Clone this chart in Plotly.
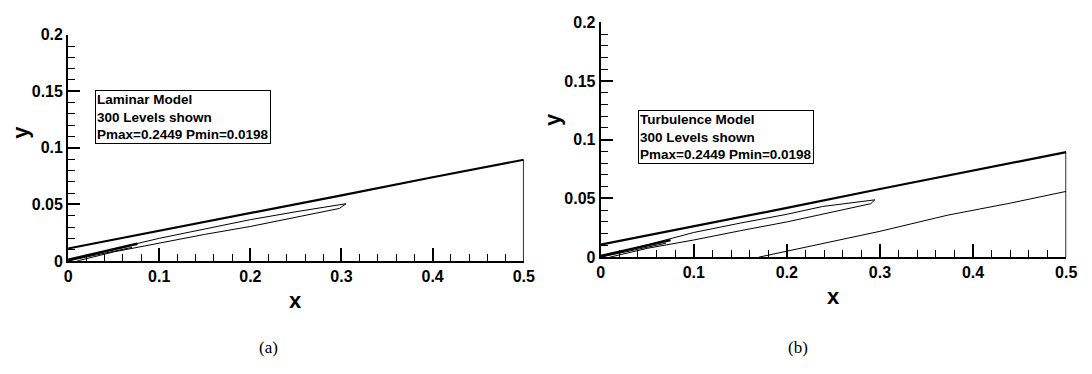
import plotly.graph_objects as go

# ---------------- data ----------------
# Panel (a) : Laminar model
a_wall_x = [0.0, 0.1, 0.2, 0.3, 0.4, 0.5]
a_wall_y = [0.011, 0.0265, 0.0425, 0.058, 0.074, 0.0895]
a_edge_x = [0.5, 0.5]
a_edge_y = [0.0, 0.0895]
a_loop_x = [0.0, 0.05, 0.1, 0.15, 0.2, 0.25, 0.305, 0.2976, 0.25, 0.2, 0.15, 0.1, 0.05, 0.01]
a_loop_y = [0.0, 0.0105, 0.0200, 0.0285, 0.0365, 0.0435, 0.0506, 0.0464, 0.0385, 0.0305, 0.0235, 0.0160, 0.0080, 0.0]
a_lead1_x = [0.0, 0.025, 0.05, 0.076]
a_lead1_y = [0.001, 0.0055, 0.0100, 0.0152]
a_lead2_x = [0.0, 0.035, 0.07]
a_lead2_y = [0.0, 0.0060, 0.0120]

# Panel (b) : Turbulence model
b_wall_x = [0.0, 0.1, 0.2, 0.3, 0.4, 0.5]
b_wall_y = [0.0106, 0.026, 0.042, 0.058, 0.074, 0.0894]
b_edge_x = [0.5, 0.5]
b_edge_y = [0.0, 0.0894]
b_loop_x = [0.0, 0.05, 0.1, 0.15, 0.2, 0.238, 0.2945, 0.290, 0.238, 0.2, 0.15, 0.1, 0.05, 0.01]
b_loop_y = [0.0, 0.0105, 0.0210, 0.0290, 0.0365, 0.0431, 0.0488, 0.0455, 0.0366, 0.0300, 0.0225, 0.0146, 0.0075, 0.0]
b_lead1_x = [0.0, 0.025, 0.05, 0.075]
b_lead1_y = [0.001, 0.0055, 0.0100, 0.0145]
b_lead2_x = [0.0, 0.035, 0.07]
b_lead2_y = [0.0, 0.0060, 0.0118]
b_turb_x = [0.17, 0.2, 0.238, 0.3, 0.373, 0.44, 0.5]
b_turb_y = [0.0, 0.005, 0.0114, 0.022, 0.0358, 0.046, 0.056]

x_ticks = [0, 0.1, 0.2, 0.3, 0.4, 0.5]
x_ticktext = ["0", "0.1", "0.2", "0.3", "0.4", "0.5"]
y_ticks = [0, 0.05, 0.1, 0.15, 0.2]
y_ticktext = ["0", "0.05", "0.1", "0.15", "0.2"]

box_a = "Laminar Model<br>300 Levels shown<br>Pmax=0.2449 Pmin=0.0198"
box_b = "Turbulence Model<br>300 Levels shown<br>Pmax=0.2449 Pmin=0.0198"

# ---------------- figure ----------------
W, H = 1092, 374
fig = go.Figure()

def add_line(x, y, xa, ya, width):
    fig.add_trace(go.Scatter(x=x, y=y, mode="lines", xaxis=xa, yaxis=ya,
                             line=dict(color="black", width=width),
                             showlegend=False, hoverinfo="skip"))

# panel a
add_line(a_wall_x, a_wall_y, "x", "y", 2.2)
add_line(a_edge_x, a_edge_y, "x", "y", 1.6)
add_line(a_loop_x, a_loop_y, "x", "y", 1.0)
add_line(a_lead1_x, a_lead1_y, "x", "y", 2.5)
add_line(a_lead2_x, a_lead2_y, "x", "y", 1.0)
# panel b
add_line(b_wall_x, b_wall_y, "x2", "y2", 2.2)
add_line(b_edge_x, b_edge_y, "x2", "y2", 1.6)
add_line(b_loop_x, b_loop_y, "x2", "y2", 1.0)
add_line(b_lead1_x, b_lead1_y, "x2", "y2", 2.5)
add_line(b_lead2_x, b_lead2_y, "x2", "y2", 1.0)
add_line(b_turb_x, b_turb_y, "x2", "y2", 1.0)

tick_font = dict(family="Liberation Sans, Arial, sans-serif", size=16, color="black",
                 weight="bold")

def xaxis_cfg(domain, anchor):
    return dict(domain=domain, anchor=anchor, range=[0, 0.5],
                tickvals=x_ticks, ticktext=x_ticktext, ticks="inside",
                ticklen=13, tickwidth=1.5, tickcolor="black",
                showline=True, linewidth=2, linecolor="black", mirror=False,
                showgrid=False, zeroline=False, tickfont=tick_font,
                minor=dict(dtick=0.02, tick0=0, ticks="inside", ticklen=7,
                           tickwidth=1, tickcolor="black", showgrid=False),
                fixedrange=True)

def yaxis_cfg(domain, anchor):
    return dict(domain=domain, anchor=anchor, range=[0, 0.2],
                tickvals=y_ticks, ticktext=y_ticktext, ticks="inside",
                ticklen=12, tickwidth=1.5, tickcolor="black",
                showline=True, linewidth=2, linecolor="black", mirror=False,
                showgrid=False, zeroline=False, tickfont=tick_font,
                minor=dict(dtick=0.01, tick0=0, ticks="inside", ticklen=7,
                           tickwidth=1, tickcolor="black", showgrid=False),
                fixedrange=True)

fig.update_layout(
    width=W, height=H, autosize=False,
    margin=dict(l=0, r=0, t=0, b=0),
    paper_bgcolor="white", plot_bgcolor="white",
    xaxis=xaxis_cfg([65 / W, 527 / W], "y"),
    yaxis=yaxis_cfg([1 - 265 / H, 1 - 28 / H], "x"),
    xaxis2=xaxis_cfg([605 / W, 1077 / W], "y2"),
    yaxis2=yaxis_cfg([1 - 261 / H, 1 - 15 / H], "x2"),
)

title_font = dict(family="Liberation Sans Narrow, Liberation Sans, Arial, sans-serif",
                  size=22, color="black", weight="bold")
box_font = dict(family="Liberation Sans, Arial, sans-serif", size=13.5, color="black",
                weight="bold")
cap_font = dict(family="Liberation Serif, Times New Roman, serif", size=17, color="black")

ann = []
# axis titles
ann.append(dict(text="x", x=296 / W, y=1 - 306 / H, xref="paper", yref="paper",
                showarrow=False, font=title_font, xanchor="center", yanchor="middle"))
ann.append(dict(text="x", x=841 / W, y=1 - 302 / H, xref="paper", yref="paper",
                showarrow=False, font=title_font, xanchor="center", yanchor="middle"))
ann.append(dict(text="y", x=16 / W, y=1 - 130 / H, xref="paper", yref="paper",
                showarrow=False, font=title_font, textangle=-90,
                xanchor="center", yanchor="middle"))
ann.append(dict(text="y", x=556 / W, y=1 - 117 / H, xref="paper", yref="paper",
                showarrow=False, font=title_font, textangle=-90,
                xanchor="center", yanchor="middle"))
# text boxes
ann.append(dict(text=box_a, x=92 / W, y=1 - 86 / H, xref="paper", yref="paper",
                showarrow=False, font=box_font, align="left", xanchor="left", yanchor="top",
                bordercolor="black", borderwidth=1, borderpad=1, bgcolor="white"))
ann.append(dict(text=box_b, x=643 / W, y=1 - 107 / H, xref="paper", yref="paper",
                showarrow=False, font=box_font, align="left", xanchor="left", yanchor="top",
                bordercolor="black", borderwidth=1, borderpad=1, bgcolor="white"))
# captions
ann.append(dict(text="(a)", x=268 / W, y=1 - 356 / H, xref="paper", yref="paper",
                showarrow=False, font=cap_font, xanchor="center", yanchor="middle"))
ann.append(dict(text="(b)", x=805 / W, y=1 - 356 / H, xref="paper", yref="paper",
                showarrow=False, font=cap_font, xanchor="center", yanchor="middle"))
fig.update_layout(annotations=ann)

fig.write_html("out.html")
